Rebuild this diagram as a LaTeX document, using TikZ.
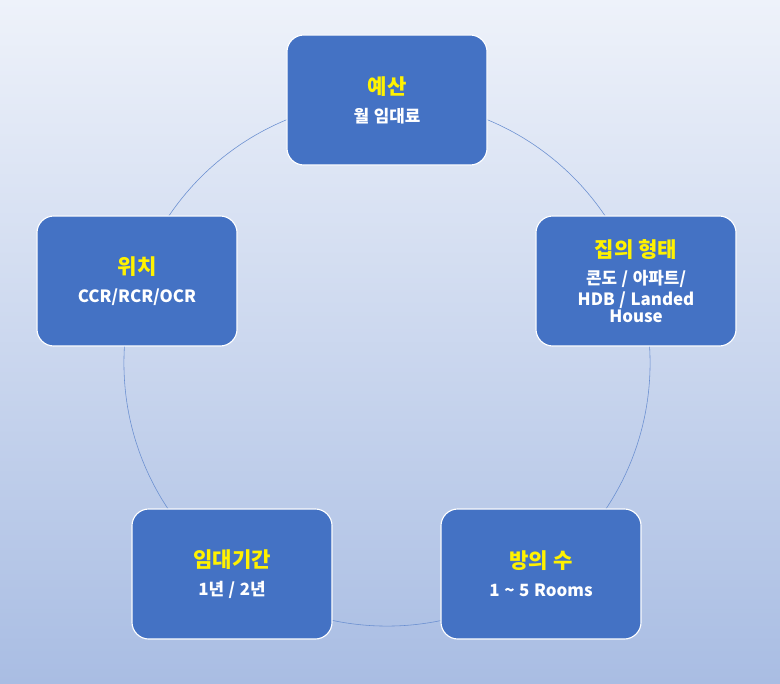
\documentclass[tikz,border=0pt]{standalone}
\usepackage{fontspec}
\setmainfont{Noto Sans CJK KR}
\definecolor{boxblue}{HTML}{4472C4}
\definecolor{bgtop}{HTML}{EEF2FA}
\definecolor{bgbot}{HTML}{A9BDE3}
\begin{document}
\begin{tikzpicture}[x=0.025cm, y=-0.025cm,
  item/.style={draw=white, thick, fill=boxblue, rounded corners=12pt,
    minimum width=5cm, minimum height=3.25cm, text width=4.6cm, align=center},
  head/.style={text=yellow, font=\bfseries\fontsize{15}{18}\selectfont},
  body/.style={text=white, font=\bfseries\fontsize{12}{15}\selectfont},
  ring/.style={boxblue!80, thin},
]
\shade[top color=bgtop, bottom color=bgbot] (0,0) rectangle (780,683);
\useasboundingbox (0,0) rectangle (780,683);

\draw[ring] (387,363) circle[radius=6.575cm];

\node (budget) [item] at (387,100)
  {{\color{yellow}\bfseries\fontsize{15}{18}\selectfont 예산}\\[8pt]
   {\color{white}\bfseries\fontsize{12}{15}\selectfont 월 임대료}};
\node (house) [item] at (636,281)
  {{\color{yellow}\bfseries\fontsize{15}{18}\selectfont 집의 형태}\\[4pt]
   {\color{white}\bfseries\fontsize{12}{15}\selectfont 콘도 / 아파트/\\ HDB / Landed\\ House}};
\node (rooms) [item] at (541,574)
  {{\color{yellow}\bfseries\fontsize{15}{18}\selectfont 방의 수}\\[8pt]
   {\color{white}\bfseries\fontsize{12}{15}\selectfont 1 \textasciitilde{} 5 Rooms}};
\node (term) [item] at (232,574)
  {{\color{yellow}\bfseries\fontsize{15}{18}\selectfont 임대기간}\\[8pt]
   {\color{white}\bfseries\fontsize{12}{15}\selectfont 1년 / 2년}};
\node (place) [item] at (137,281)
  {{\color{yellow}\bfseries\fontsize{15}{18}\selectfont 위치}\\[8pt]
   {\color{white}\bfseries\fontsize{12}{15}\selectfont CCR/RCR/OCR}};
\end{tikzpicture}
\end{document}
